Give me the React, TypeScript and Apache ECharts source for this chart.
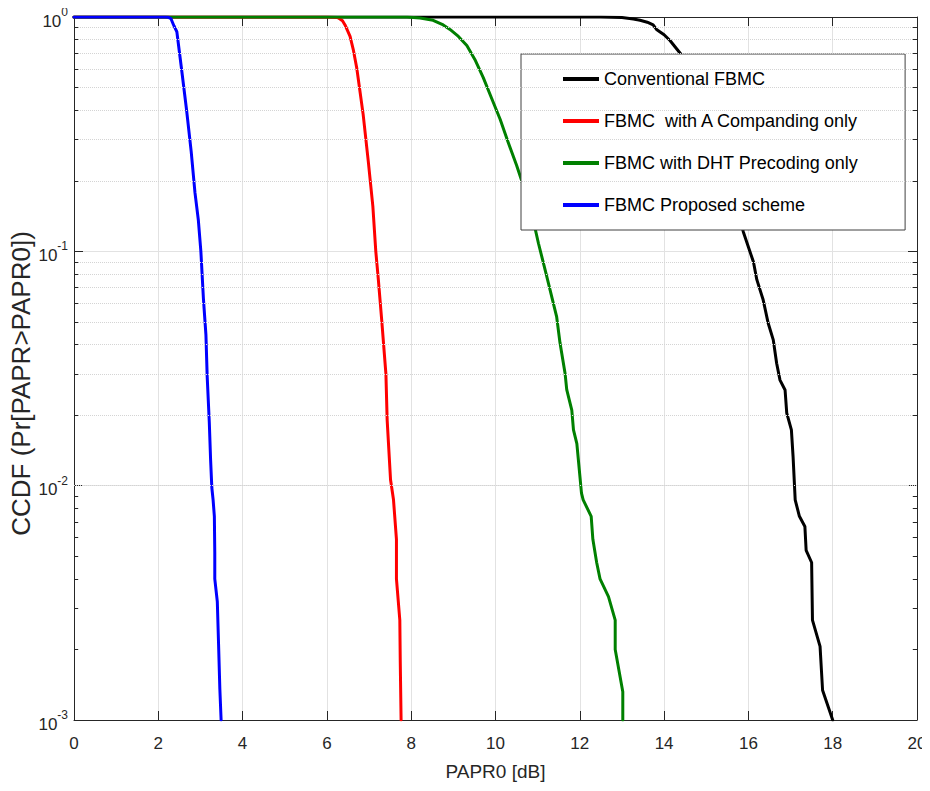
import React, { useEffect, useRef } from "react";
import * as echarts from "echarts";

// ---- data ----
const seriesNames = [
  "Conventional FBMC",
  "FBMC  with A Companding only",
  "FBMC with DHT Precoding only",
  "FBMC Proposed scheme",
];
const seriesColors = ["#000000", "#ff0000", "#008000", "#0000ff"];

const blackX = [0, 12.5, 13.0, 13.27, 13.43, 13.6, 13.74, 13.82, 14.0, 14.14, 14.41, 14.8, 15.2, 15.55, 15.88, 16.12, 16.2, 16.35, 16.47, 16.59, 16.67, 16.75, 16.87, 16.91, 17.02, 17.06, 17.11, 17.21, 17.34, 17.37, 17.5, 17.52, 17.7, 17.76, 18.0];
const blackY = [1, 1, 0.995, 0.98, 0.968, 0.95, 0.925, 0.885, 0.84, 0.794, 0.69, 0.5, 0.32, 0.2, 0.121, 0.09, 0.0757, 0.0621, 0.0493, 0.0419, 0.0333, 0.0282, 0.0256, 0.0204, 0.0173, 0.0133, 0.0087, 0.0074, 0.0067, 0.0053, 0.0047, 0.00267, 0.00206, 0.00134, 0.001];

const redX = [0, 6.0, 6.25, 6.31, 6.37, 6.43, 6.55, 6.63, 6.71, 6.86, 6.98, 7.09, 7.16, 7.22, 7.3, 7.4, 7.43, 7.51, 7.58, 7.65, 7.65, 7.73, 7.74, 7.76];
const redY = [1, 1, 0.995, 0.98, 0.963, 0.925, 0.826, 0.72, 0.603, 0.384, 0.244, 0.156, 0.1, 0.076, 0.051, 0.03, 0.019, 0.0106, 0.0087, 0.0059, 0.004, 0.00267, 0.0018, 0.001];

const greenX = [0, 7.9, 8.21, 8.52, 8.76, 8.92, 9.12, 9.32, 9.51, 9.71, 9.91, 10.11, 10.3, 10.5, 10.82, 11.02, 11.21, 11.45, 11.53, 11.65, 11.69, 11.81, 11.85, 11.93, 12.04, 12.08, 12.27, 12.31, 12.4, 12.48, 12.68, 12.84, 12.84, 13.02, 13.02];
const greenY = [1, 1, 0.99, 0.968, 0.925, 0.885, 0.826, 0.755, 0.659, 0.551, 0.449, 0.366, 0.292, 0.233, 0.156, 0.108, 0.079, 0.0527, 0.0407, 0.0302, 0.0257, 0.021, 0.0173, 0.0151, 0.0093, 0.0087, 0.0074, 0.0059, 0.0047, 0.004, 0.00336, 0.00267, 0.002, 0.00132, 0.001];

const blueX = [0, 2.15, 2.24, 2.3, 2.33, 2.37, 2.44, 2.55, 2.67, 2.78, 2.87, 2.95, 3.01, 3.07, 3.13, 3.16, 3.21, 3.24, 3.27, 3.3, 3.33, 3.34, 3.34, 3.4, 3.43, 3.46, 3.49];
const blueY = [1, 1, 0.997, 0.985, 0.955, 0.918, 0.865, 0.603, 0.402, 0.267, 0.178, 0.136, 0.1, 0.063, 0.044, 0.0292, 0.0186, 0.013, 0.0098, 0.0087, 0.0074, 0.0052, 0.004, 0.0032, 0.0021, 0.00136, 0.001];

const xTickValues = [0, 2, 4, 6, 8, 10, 12, 14, 16, 18, 20];
const yDecades = [0.001, 0.01, 0.1, 1];
const yMinorValues = [
  0.002, 0.003, 0.004, 0.005, 0.006, 0.007, 0.008, 0.009,
  0.02, 0.03, 0.04, 0.05, 0.06, 0.07, 0.08, 0.09,
  0.2, 0.3, 0.4, 0.5, 0.6, 0.7, 0.8, 0.9,
];
const xAxisTitle = "PAPR0 [dB]";
const yAxisTitle = "CCDF (Pr[PAPR>PAPR0])";

const FONT = "'Liberation Sans', Arial, Helvetica, sans-serif";
const AXIS_COLOR = "#262626";

function zip(xs: number[], ys: number[]) {
  return xs.map((x, i) => [x, ys[i]]);
}

export default function App() {
  const ref = useRef<HTMLDivElement>(null);

  useEffect(() => {
    if (!ref.current) return;
    const chart = echarts.init(ref.current, undefined, { renderer: "svg" });

    const xMin = xTickValues[0];
    const xMax = xTickValues[xTickValues.length - 1];
    const xStep = xTickValues[1] - xTickValues[0];
    const yMin = yDecades[0];
    const yMax = yDecades[yDecades.length - 1];
    const minorLen = 0.1;

    const curves = [
      zip(blackX, blackY),
      zip(redX, redY),
      zip(greenX, greenY),
      zip(blueX, blueY),
    ];

    const option: any = {
      animation: false,
      backgroundColor: "#ffffff",
      textStyle: { fontFamily: FONT },
      grid: { left: 74, right: 13, top: 17, bottom: 71, containLabel: false, outerBoundsMode: "none" },
      legend: {
        data: seriesNames,
        orient: "vertical",
        left: 521,
        top: 54,
        icon: "rect",
        itemWidth: 36,
        itemHeight: 4,
        itemGap: 24,
        padding: [16, 46, 16, 42],
        backgroundColor: "#ffffff",
        borderColor: "#404040",
        borderWidth: 1,
        borderRadius: 0,
        textStyle: { fontSize: 18, color: "#000000", fontFamily: FONT },
        selectedMode: false,
      },
      xAxis: [
        {
          type: "value",
          position: "bottom",
          min: xMin,
          max: xMax,
          interval: xStep,
          name: xAxisTitle,
          nameLocation: "middle",
          nameGap: 42,
          nameMoveOverlap: false,
          nameTextStyle: { fontSize: 19, color: AXIS_COLOR, fontFamily: FONT },
          axisLine: { show: true, onZero: false, lineStyle: { color: AXIS_COLOR, width: 1 } },
          axisTick: { show: true, inside: true, length: 9, lineStyle: { color: AXIS_COLOR } },
          axisLabel: { fontSize: 17, color: AXIS_COLOR, margin: 15, fontFamily: FONT },
          splitLine: { show: true, lineStyle: { color: "#e2e2e2", width: 1 } },
        },
        {
          type: "value",
          position: "top",
          min: xMin,
          max: xMax,
          interval: xStep,
          axisLine: { show: true, onZero: false, lineStyle: { color: AXIS_COLOR, width: 1 } },
          axisTick: { show: true, inside: true, length: 9, lineStyle: { color: AXIS_COLOR } },
          axisLabel: { show: false },
          splitLine: { show: false },
        },
      ],
      yAxis: [
        {
          type: "log",
          logBase: 10,
          position: "left",
          min: yMin,
          max: yMax,
          name: yAxisTitle,
          nameLocation: "middle",
          nameGap: 40,
          nameMoveOverlap: false,
          nameTextStyle: { fontSize: 26, color: AXIS_COLOR, fontFamily: FONT, padding: [0, 30, 0, 0] },
          axisLine: { show: true, onZero: false, lineStyle: { color: AXIS_COLOR, width: 1 } },
          axisTick: { show: true, inside: true, length: 9, lineStyle: { color: AXIS_COLOR } },
          axisLabel: {
            margin: 6,
            color: AXIS_COLOR,
            padding: [8, 0, 0, 0],
            formatter: (v: number) => "{b|10}{s|" + Math.round(Math.log10(v)) + "}",
            rich: {
              b: { fontSize: 17, lineHeight: 30, color: AXIS_COLOR, fontFamily: FONT },
              s: { fontSize: 12, lineHeight: 13, verticalAlign: "top", color: AXIS_COLOR, fontFamily: FONT },
            },
          },
          splitLine: { show: true, lineStyle: { color: "#e2e2e2", width: 1 } },
        },
        {
          type: "log",
          logBase: 10,
          position: "right",
          min: yMin,
          max: yMax,
          axisLine: { show: true, onZero: false, lineStyle: { color: AXIS_COLOR, width: 1 } },
          axisTick: { show: true, inside: true, length: 9, lineStyle: { color: AXIS_COLOR } },
          axisLabel: { show: false },
          splitLine: { show: false },
        },
      ],
      series: [
        {
          name: "__minor",
          type: "line",
          data: [],
          z: 1,
          silent: true,
          markLine: {
            silent: true,
            symbol: ["none", "none"],
            label: { show: false },
            animation: false,
            lineStyle: { color: "#d4d4d4", width: 1, type: "dotted" },
            data: yMinorValues.map((v) => ({ yAxis: v })),
          },
        },
        {
          name: "__minorTicks",
          type: "line",
          data: [],
          z: 3,
          silent: true,
          markLine: {
            silent: true,
            symbol: ["none", "none"],
            label: { show: false },
            animation: false,
            lineStyle: { color: AXIS_COLOR, width: 1, type: "solid" },
            data: [
              ...yMinorValues.map((v) => [{ coord: [xMin, v] }, { coord: [xMin + minorLen, v] }]),
              ...yMinorValues.map((v) => [{ coord: [xMax - minorLen, v] }, { coord: [xMax, v] }]),
            ],
          },
        },
        ...curves.map((d, i) => ({
          name: seriesNames[i],
          type: "line",
          data: d,
          showSymbol: false,
          symbol: "none",
          color: seriesColors[i],
          itemStyle: { color: seriesColors[i] },
          lineStyle: { color: seriesColors[i], width: 3, join: "round", cap: "round" },
          z: 2,
          clip: true,
        })),
      ],
    };

    chart.setOption(option);
    return () => chart.dispose();
  }, []);

  return <div ref={ref} style={{ width: 930, height: 791, margin: -8 }} />;
}
